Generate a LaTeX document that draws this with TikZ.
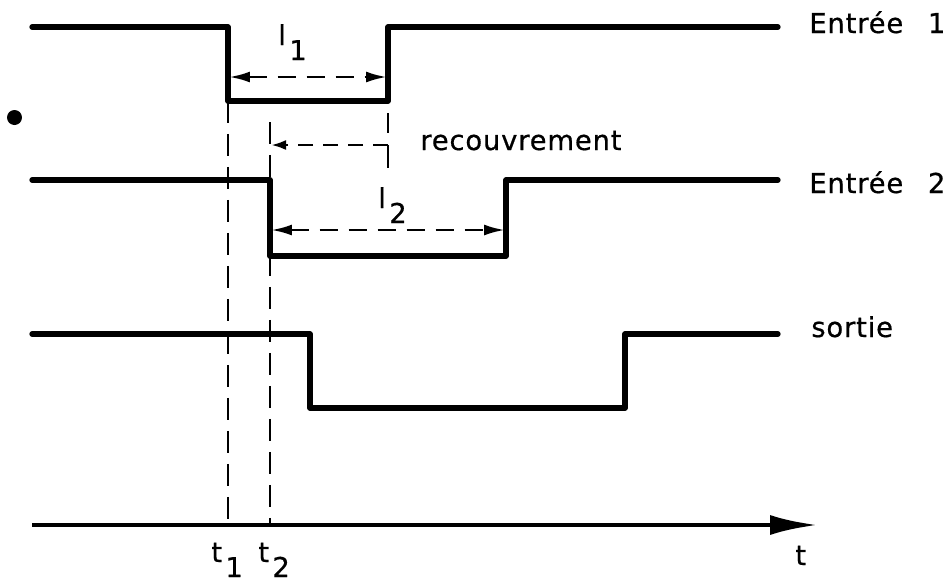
\documentclass[tikz,border=0pt]{standalone}
\usepackage{fontspec}
\setmainfont{DejaVu Sans}[LetterSpace=3,FakeBold=0.6]
\usetikzlibrary{arrows.meta}
\newcommand\lowsub[1]{\kern0.12em\raisebox{-0.55em}{#1}}
\begin{document}
\begin{tikzpicture}[x=0.02cm,y=-0.02cm,
  sig/.style={line width=3pt, line join=round, line cap=round},
  guide/.style={line width=1.6pt, dash pattern=on 0.44cm off 0.22cm},
  meas/.style={line width=1.6pt, dash pattern=on 0.36cm off 0.22cm,
    {Latex[length=0.42cm,width=0.22cm]}-{Latex[length=0.42cm,width=0.22cm]}},
  lbl/.style={inner sep=0pt, anchor=base west, font=\fontsize{15.6}{18}\selectfont}]
\useasboundingbox (0,0) rectangle (950,582);
% Entree 1
\coordinate (a1) at (32,27);
\coordinate (a2) at (228,27);
\coordinate (a3) at (228,101);
\coordinate (a4) at (388,101);
\coordinate (a5) at (388,27);
\coordinate (a6) at (778,27);
\draw[sig] (a1) -- (a2) -- (a3) -- (a4) -- (a5) -- (a6);
% Entree 2
\coordinate (b1) at (32,180);
\coordinate (b2) at (270,180);
\coordinate (b3) at (270,256);
\coordinate (b4) at (506,256);
\coordinate (b5) at (506,180);
\coordinate (b6) at (778,180);
\draw[sig] (b1) -- (b2) -- (b3) -- (b4) -- (b5) -- (b6);
% sortie
\coordinate (c1) at (32,334);
\coordinate (c2) at (310,334);
\coordinate (c3) at (310,408);
\coordinate (c4) at (625,408);
\coordinate (c5) at (625,334);
\coordinate (c6) at (778,334);
\draw[sig] (c1) -- (c2) -- (c3) -- (c4) -- (c5) -- (c6);
% time axis
\coordinate (o) at (32,525);
\coordinate (tend) at (818,525);
\draw[line width=2.8pt, -{Latex[length=0.96cm,width=0.4cm]}] (o) -- (tend);
% guides
\coordinate (t1) at (228,525);
\coordinate (t2top) at (270,122);
\coordinate (t2) at (270,525);
\coordinate (g3a) at (388,113);
\coordinate (g3b) at (388,133);
\draw[guide] (a3) -- (t1);
\draw[guide] (t2top) -- (t2);
\draw[line width=1.6pt] (g3a) -- (g3b);
% measures
\coordinate (m1a) at (229,77);
\coordinate (m1b) at (387,77);
\coordinate (m2a) at (271,230);
\coordinate (m2b) at (505,230);
\draw[meas] (m1a) -- (m1b);
\draw[meas] (m2a) -- (m2b);
% recouvrement bracket
\coordinate (r1) at (271,145);
\coordinate (r2) at (388,145);
\coordinate (r3) at (388,168);
\draw[line width=1.6pt, dash pattern=on 0.3cm off 0.2cm, -{Latex[length=0.3cm,width=0.2cm]}] (r2) -- (r1);
\draw[line width=1.6pt] (r2) -- (r3);
% smudge dot
\fill (14.5,117.5) circle[radius=0.15cm];
% labels
\node[lbl] (e1) at (809,33) {Entrée\hspace{0.9em}1};
\node[lbl] (e2) at (809,193) {Entrée\hspace{0.9em}2};
\node[lbl] (so) at (811,337) {sortie};
\node[lbl] (rec) at (420,150) {recouvrement};
\node[lbl] (tt) at (795,565) {t};
\node[lbl] (tl1) at (211,562) {t\lowsub{1}};
\node[lbl] (tl2) at (258,562) {t\lowsub{2}};
\node[lbl] (l1) at (278,45) {l\lowsub{1}};
\node[lbl] (l2) at (378,208) {l\lowsub{2}};
\end{tikzpicture}
\end{document}
